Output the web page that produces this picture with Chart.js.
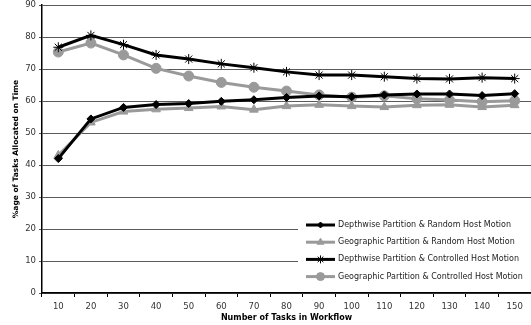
<!DOCTYPE html>
<html>
<head>
<meta charset="utf-8">
<script src="https://cdn.jsdelivr.net/npm/chart.js@4.4.1/dist/chart.umd.min.js"></script>
<style>
  html, body { margin: 0; padding: 0; background: #fff; }
  #wrap { width: 531px; height: 325px; position: relative; }
</style>
</head>
<body>
<div id="wrap"><canvas id="my-chart"></canvas></div>
<script>
// Valeurs
const taskCounts = [10, 20, 30, 40, 50, 60, 70, 80, 90, 100, 110, 120, 130, 140, 150];
const depthRandom = [42, 54.4, 58, 58.9, 59.2, 59.9, 60.4, 61.1, 61.6, 61.3, 61.9, 62.2, 62.2, 61.7, 62.3];
const geoRandom = [43, 53.3, 56.7, 57.4, 57.8, 58.3, 57.3, 58.4, 58.8, 58.4, 58.1, 58.7, 58.8, 58.1, 58.7];
const depthControlled = [76.8, 80.5, 77.6, 74.4, 73.1, 71.6, 70.4, 69.1, 68.1, 68.1, 67.6, 67, 66.9, 67.3, 67];
const geoControlled = [75.3, 78.1, 74.4, 70.2, 67.8, 65.8, 64.3, 63.1, 61.9, 61.2, 61.6, 60.7, 60.3, 59.8, 60.1];
const seriesNames = [
    'Depthwise Partition & Random Host Motion',
    'Geographic Partition & Random Host Motion',
    'Depthwise Partition & Controlled Host Motion',
    'Geographic Partition & Controlled Host Motion'
];

const FONT = '"DejaVu Sans", Verdana, sans-serif';
const BLACK = '#000000';
const GREY = '#9a9a9a';

function serie(label, data, color, style, radius) {
    return {
        label: label,
        data: data,
        borderColor: color,
        backgroundColor: color,
        borderWidth: 3,
        pointStyle: style,
        pointRadius: radius,
        pointBorderWidth: 1,
        pointBorderColor: color,
        pointBackgroundColor: color,
        tension: 0
    };
}

// Légende dessinée dans la zone du graphique (comme dans l'original)
const insideLegend = {
    id: 'insideLegend',
    afterDatasetsDraw(chart) {
        const ctx = chart.ctx;
        const x0 = 298, y0 = 216, w = 233, rowH = 17.2;
        ctx.save();
        ctx.fillStyle = '#ffffff';
        ctx.fillRect(x0, y0, w, rowH * 4 + 2);
        chart.data.datasets.forEach((ds, i) => {
            const y = y0 + 9 + i * rowH;
            ctx.strokeStyle = ds.borderColor;
            ctx.lineWidth = 3;
            ctx.beginPath();
            ctx.moveTo(306, y);
            ctx.lineTo(335, y);
            ctx.stroke();
            // marqueur au milieu du trait
            ctx.lineWidth = 1;
            ctx.strokeStyle = ds.borderColor;
            ctx.fillStyle = ds.backgroundColor;
            Chart.helpers.drawPoint(ctx, {
                pointStyle: ds.pointStyle,
                radius: ds.pointRadius - 1,
                borderWidth: 1,
                rotation: 0
            }, 320.5, y);
            ctx.fillStyle = '#222';
            ctx.font = '8px ' + FONT;
            ctx.textBaseline = 'middle';
            ctx.textAlign = 'left';
            ctx.fillText(ds.label, 338, y);
        });
        ctx.restore();
    }
};

const ctx = document.getElementById('my-chart').getContext('2d');
new Chart(ctx, {
    type: 'line',
    data: {
        labels: taskCounts,
        datasets: [
            serie(seriesNames[0], depthRandom, BLACK, 'rectRot', 4),
            serie(seriesNames[1], geoRandom, GREY, 'triangle', 5),
            serie(seriesNames[2], depthControlled, BLACK, 'star', 5),
            serie(seriesNames[3], geoControlled, GREY, 'circle', 5)
        ]
    },
    options: {
        responsive: true,
        maintainAspectRatio: false,
        animation: false,
        layout: { autoPadding: false, padding: { top: 0, right: 0, left: 0, bottom: 0 } },
        plugins: {
            legend: { display: false },
            tooltip: { enabled: false }
        },
        scales: {
            x: {
                offset: true,
                grid: {
                    offset: true,
                    drawOnChartArea: false,
                    drawTicks: true,
                    tickLength: 4,
                    color: BLACK
                },
                border: { display: true, color: BLACK, width: 1.5 },
                ticks: {
                    color: '#333',
                    font: { family: FONT, size: 8.5 },
                    padding: 5,
                    maxRotation: 0,
                    autoSkip: false
                },
                title: {
                    display: true,
                    text: 'Number of Tasks in Workflow',
                    color: BLACK,
                    font: { family: FONT, size: 8, weight: 'bold' },
                    padding: { top: 1, bottom: 2 }
                },
                afterFit(scale) {
                    scale.height = 32;
                    // le graphique va jusqu'au bord droit
                    scale.paddingRight = 0;
                    scale.paddingLeft = 0;
                }
            },
            y: {
                min: 0,
                max: 90,
                grid: {
                    color: '#5a5a5a',
                    lineWidth: 1,
                    drawTicks: true,
                    tickLength: 3
                },
                border: { display: true, color: BLACK, width: 1.5 },
                ticks: {
                    stepSize: 10,
                    color: '#333',
                    font: { family: FONT, size: 8.5 },
                    padding: 3
                },
                title: {
                    display: true,
                    text: '%age of Tasks Allocated on Time',
                    color: BLACK,
                    font: { family: FONT, size: 7.5, weight: 'bold' },
                    padding: { top: 12, bottom: 4 }
                },
                afterFit(scale) {
                    scale.width = 42;
                    scale.paddingTop = 5;
                }
            }
        }
    },
    plugins: [insideLegend]
});
</script>
</body>
</html>
